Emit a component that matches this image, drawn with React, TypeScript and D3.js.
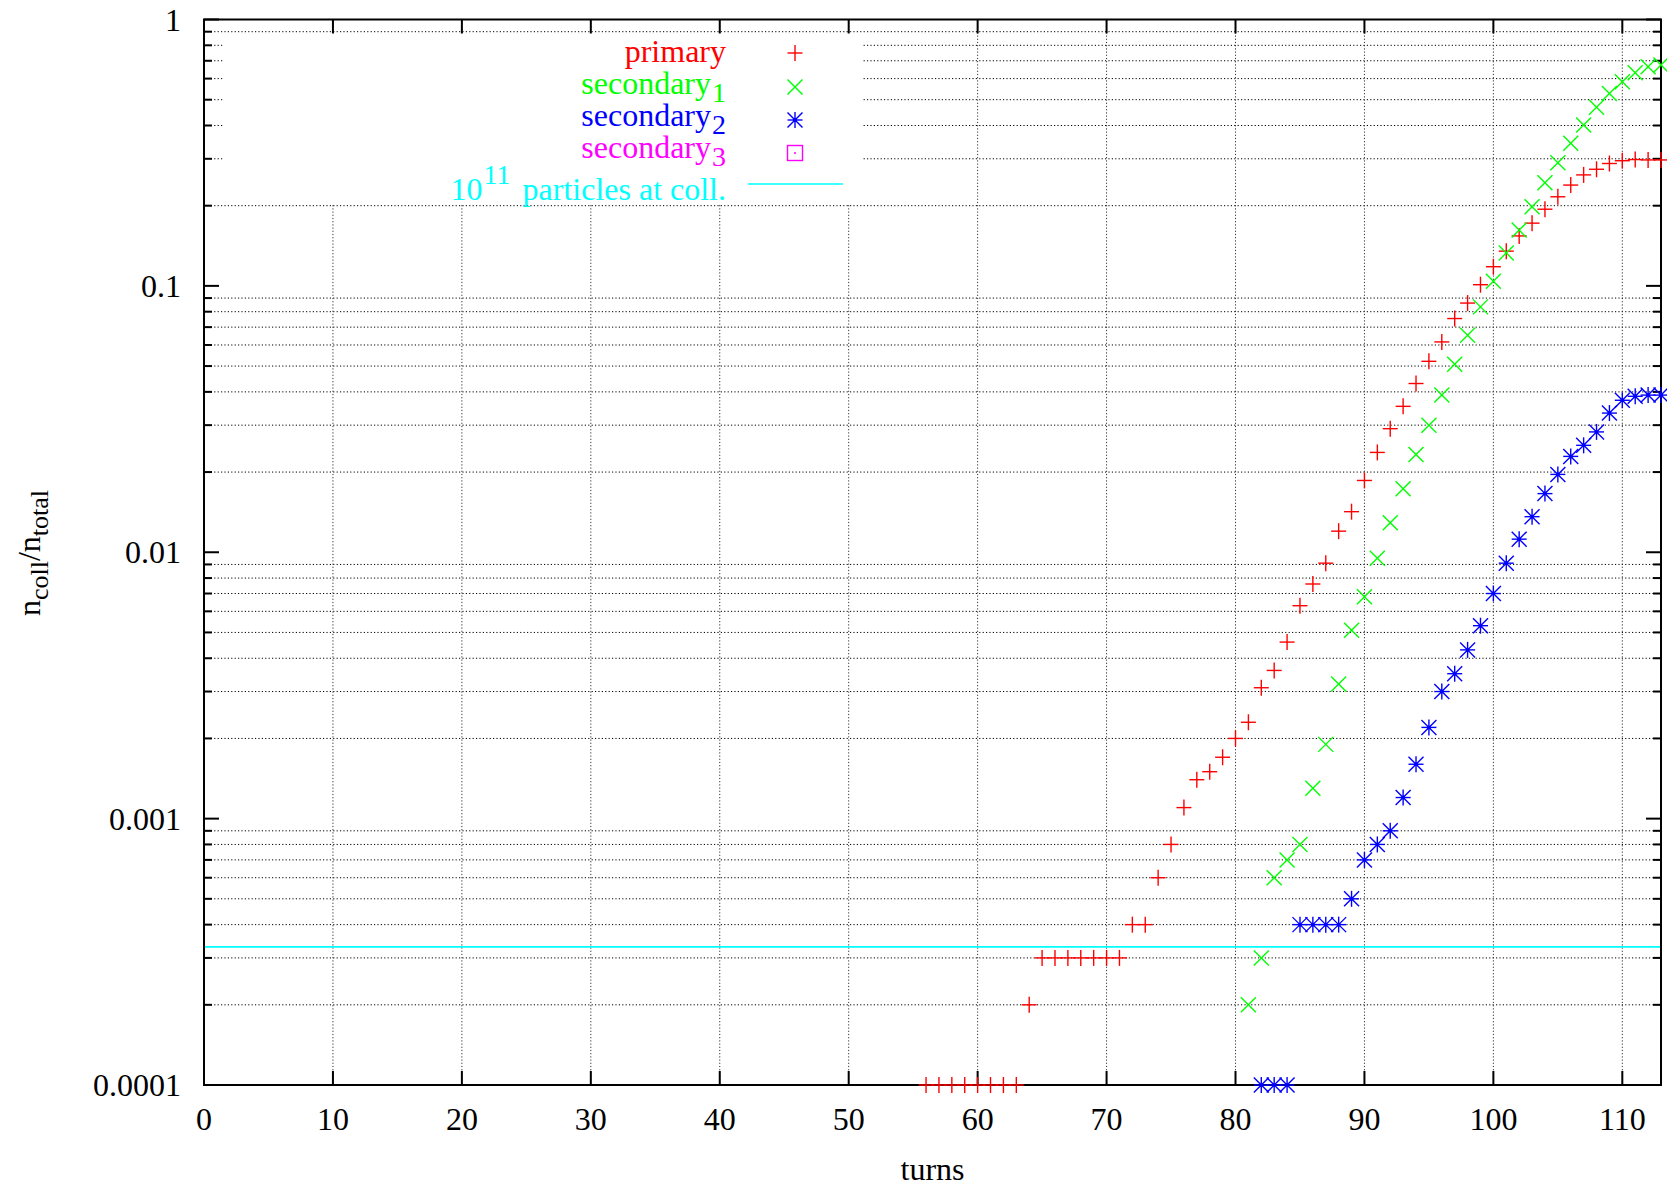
import * as d3 from "d3";

// turns (x) and n_coll/n_total (y)
const primaryTurns = [
  56, 57, 58, 59, 60, 61, 62, 63, 64, 65, 66, 67, 68, 69, 70, 71, 72, 73, 74,
  75, 76, 77, 78, 79, 80, 81, 82, 83, 84, 85, 86, 87, 88, 89, 90, 91, 92, 93,
  94, 95, 96, 97, 98, 99, 100, 101, 102, 103, 104, 105, 106, 107, 108, 109,
  110, 111, 112, 113,
];
const primaryValues = [
  1e-4, 1e-4, 1e-4, 1e-4, 1e-4, 1e-4, 1e-4, 1e-4, 2e-4, 3e-4, 3e-4, 3e-4, 3e-4,
  3e-4, 3e-4, 3e-4, 4e-4, 4e-4, 6e-4, 8e-4, 1.1e-3, 1.4e-3, 1.5e-3, 1.7e-3,
  2.0e-3, 2.3e-3, 3.1e-3, 3.6e-3, 4.6e-3, 6.3e-3, 7.6e-3, 9.1e-3, 0.012,
  0.0142, 0.0186, 0.0237, 0.0291, 0.0353, 0.043, 0.0521, 0.0616, 0.0754,
  0.0862, 0.101, 0.118, 0.135, 0.154, 0.172, 0.194, 0.216, 0.239, 0.261,
  0.274, 0.288, 0.295, 0.298, 0.297, 0.297,
];

const secondary1Turns = [
  81, 82, 83, 84, 85, 86, 87, 88, 89, 90, 91, 92, 93, 94, 95, 96, 97, 98, 99,
  100, 101, 102, 103, 104, 105, 106, 107, 108, 109, 110, 111, 112, 113,
];
const secondary1Values = [
  2e-4, 3e-4, 6e-4, 7e-4, 8e-4, 1.3e-3, 1.9e-3, 3.2e-3, 5.1e-3, 6.8e-3, 9.5e-3,
  0.0129, 0.0173, 0.0233, 0.03, 0.0389, 0.0508, 0.0653, 0.0834, 0.104, 0.133,
  0.162, 0.198, 0.244, 0.29, 0.343, 0.402, 0.468, 0.528, 0.584, 0.631, 0.665,
  0.675,
];

const secondary2Turns = [
  82, 83, 84, 85, 86, 87, 88, 89, 90, 91, 92, 93, 94, 95, 96, 97, 98, 99, 100,
  101, 102, 103, 104, 105, 106, 107, 108, 109, 110, 111, 112, 113,
];
const secondary2Values = [
  1e-4, 1e-4, 1e-4, 4e-4, 4e-4, 4e-4, 4e-4, 5e-4, 7e-4, 8e-4, 9e-4, 1.2e-3,
  1.6e-3, 2.2e-3, 3.0e-3, 3.5e-3, 4.3e-3, 5.3e-3, 7.0e-3, 9.1e-3, 0.0112,
  0.0136, 0.0166, 0.0196, 0.0229, 0.0252, 0.0283, 0.0333, 0.0372, 0.0385,
  0.0389, 0.0389,
];

// 10^11 particles at the collimator, as a fraction of the total
const collLimit = 3.3e-4;

const yTickLabels = ["0.0001", "0.001", "0.01", "0.1", "1"];

const RED = "#ff0000";
const GREEN = "#00ff00";
const BLUE = "#0000ff";
const MAGENTA = "#ff00ff";
const CYAN = "#00ffff";

const FONT = "'Liberation Serif', 'Times New Roman', serif";

type MarkerType = "plus" | "cross" | "star" | "box";

function Marker({ type, x, y, color }: { type: MarkerType; x: number; y: number; color: string }) {
  const h = 7.5;
  const sw = 1.4;
  if (type === "box") {
    return (
      <g>
        <rect x={x - h} y={y - h} width={2 * h} height={2 * h} fill="none" stroke={color} strokeWidth={sw} />
        <circle cx={x} cy={y} r={1} fill={color} />
      </g>
    );
  }
  const plus = (
    <>
      <line x1={x - h} x2={x + h} y1={y} y2={y} stroke={color} strokeWidth={sw} />
      <line x1={x} x2={x} y1={y - h - 0.5} y2={y + h + 0.5} stroke={color} strokeWidth={sw} />
    </>
  );
  const cross = (
    <>
      <line x1={x - h} x2={x + h} y1={y - h} y2={y + h} stroke={color} strokeWidth={sw} />
      <line x1={x - h} x2={x + h} y1={y + h} y2={y - h} stroke={color} strokeWidth={sw} />
    </>
  );
  if (type === "plus") return <g>{plus}</g>;
  if (type === "cross") return <g>{cross}</g>;
  return (
    <g>
      {plus}
      {cross}
      <circle cx={x} cy={y} r={2} fill={color} />
    </g>
  );
}

export default function App() {
  const width = 1667;
  const height = 1186;
  const plot = { left: 204, right: 1661, top: 19.5, bottom: 1085 };

  const xScale = d3.scaleLinear().domain([0, 113]).range([plot.left, plot.right]);
  const yScale = d3.scaleLog().domain([1e-4, 1]).range([plot.bottom, plot.top]);

  const xTicks = xScale.ticks(12);
  const yAll = yScale.ticks();
  const isMajor = (v: number) => Math.abs(Math.log10(v) - Math.round(Math.log10(v))) < 1e-9;
  const yMajor = yAll.filter(isMajor);
  const yMinor = yAll.filter((v) => !isMajor(v));

  // opaque key box (hides the grid behind it)
  const key = { x0: 223, x1: 862, y0: 33, y1: 204 };

  const series: { turns: number[]; values: number[]; color: string; type: MarkerType }[] = [
    { turns: primaryTurns, values: primaryValues, color: RED, type: "plus" },
    { turns: secondary1Turns, values: secondary1Values, color: GREEN, type: "cross" },
    { turns: secondary2Turns, values: secondary2Values, color: BLUE, type: "star" },
  ];

  const legendRows = [
    { label: "primary", sub: "", color: RED, type: "plus" as MarkerType, baseline: 62, my: 53 },
    { label: "secondary", sub: "1", color: GREEN, type: "cross" as MarkerType, baseline: 94, my: 87 },
    { label: "secondary", sub: "2", color: BLUE, type: "star" as MarkerType, baseline: 126, my: 120 },
    { label: "secondary", sub: "3", color: MAGENTA, type: "box" as MarkerType, baseline: 158, my: 153 },
  ];

  return (
    <div style={{ position: "absolute", left: 0, top: 0 }}>
      <svg width={width} height={height} style={{ display: "block", background: "#fff" }} fontFamily={FONT}>
        {/* Grid: minor y tics and major x tics */}
        {yMinor.map((v) => (
          <line
            key={`gy${v}`}
            x1={plot.left}
            x2={plot.right}
            y1={yScale(v)}
            y2={yScale(v)}
            stroke="#000"
            strokeWidth={1}
            strokeDasharray="1.2,2.2"
          />
        ))}
        {xTicks
          .filter((t) => t > 0)
          .map((t) => (
            <line
              key={`gx${t}`}
              x1={xScale(t)}
              x2={xScale(t)}
              y1={plot.top}
              y2={plot.bottom}
              stroke="#333"
              strokeWidth={1}
              strokeDasharray="1.2,2"
            />
          ))}

        <rect x={key.x0} y={key.y0} width={key.x1 - key.x0} height={key.y1 - key.y0} fill="#fff" />

        {/* 10^11 particles line */}
        <line
          x1={plot.left}
          x2={plot.right}
          y1={yScale(collLimit)}
          y2={yScale(collLimit)}
          stroke={CYAN}
          strokeWidth={1.6}
        />

        {/* Border */}
        <rect
          x={plot.left}
          y={plot.top}
          width={plot.right - plot.left}
          height={plot.bottom - plot.top}
          fill="none"
          stroke="#000"
          strokeWidth={2}
        />

        {/* Y ticks (left and right, inward) */}
        {yMajor.map((v) => (
          <g key={`ym${v}`}>
            <line x1={plot.left} x2={plot.left + 15} y1={yScale(v)} y2={yScale(v)} stroke="#000" strokeWidth={2} />
            <line x1={plot.right} x2={plot.right - 15} y1={yScale(v)} y2={yScale(v)} stroke="#000" strokeWidth={2} />
          </g>
        ))}
        {yMinor.map((v) => (
          <g key={`yn${v}`}>
            <line x1={plot.left} x2={plot.left + 8} y1={yScale(v)} y2={yScale(v)} stroke="#000" strokeWidth={2} />
            <line x1={plot.right} x2={plot.right - 8} y1={yScale(v)} y2={yScale(v)} stroke="#000" strokeWidth={2} />
          </g>
        ))}
        {yMajor.map((v, i) => (
          <text key={`yl${v}`} x={181} y={yScale(v) + 11} textAnchor="end" fontSize={32} fill="#000">
            {yTickLabels[i]}
          </text>
        ))}

        {/* X ticks (bottom and top, inward) */}
        {xTicks.map((t) => (
          <g key={`xt${t}`}>
            <line x1={xScale(t)} x2={xScale(t)} y1={plot.bottom} y2={plot.bottom - 14} stroke="#000" strokeWidth={2} />
            <line x1={xScale(t)} x2={xScale(t)} y1={plot.top} y2={plot.top + 14} stroke="#000" strokeWidth={2} />
            <text x={xScale(t)} y={1130} textAnchor="middle" fontSize={32} fill="#000">
              {t}
            </text>
          </g>
        ))}

        {/* Axis titles */}
        <text x={(plot.left + plot.right) / 2} y={1180} textAnchor="middle" fontSize={32} fill="#000">
          turns
        </text>
        <text transform="translate(40, 553) rotate(-90)" textAnchor="middle" fontSize={32} fill="#000">
          n
          <tspan fontSize={26} dy={8}>
            coll
          </tspan>
          <tspan dy={-8}>/n</tspan>
          <tspan fontSize={26} dy={8}>
            total
          </tspan>
        </text>

        {/* Data points */}
        {series.map((s) =>
          s.turns.map((t, i) => (
            <Marker key={`${s.type}${t}`} type={s.type} x={xScale(t)} y={yScale(s.values[i])} color={s.color} />
          ))
        )}

        {/* Key */}
        {legendRows.map((r, i) => (
          <g key={`lg${i}`}>
            <text x={726} y={r.baseline} textAnchor="end" fontSize={32} fill={r.color}>
              {r.label}
              {r.sub && (
                <tspan fontSize={28} dy={8} dx={1}>
                  {r.sub}
                </tspan>
              )}
            </text>
            <Marker type={r.type} x={795} y={r.my} color={r.color} />
          </g>
        ))}
        <text x={726} y={200} textAnchor="end" fontSize={32} fill={CYAN}>
          10
          <tspan fontSize={28} dy={-16} dx={1}>
            11
          </tspan>
          <tspan dy={16} dx={4}> particles at coll.</tspan>
        </text>
        <line x1={748} x2={843} y1={184} y2={184} stroke={CYAN} strokeWidth={1.6} />
      </svg>
    </div>
  );
}
